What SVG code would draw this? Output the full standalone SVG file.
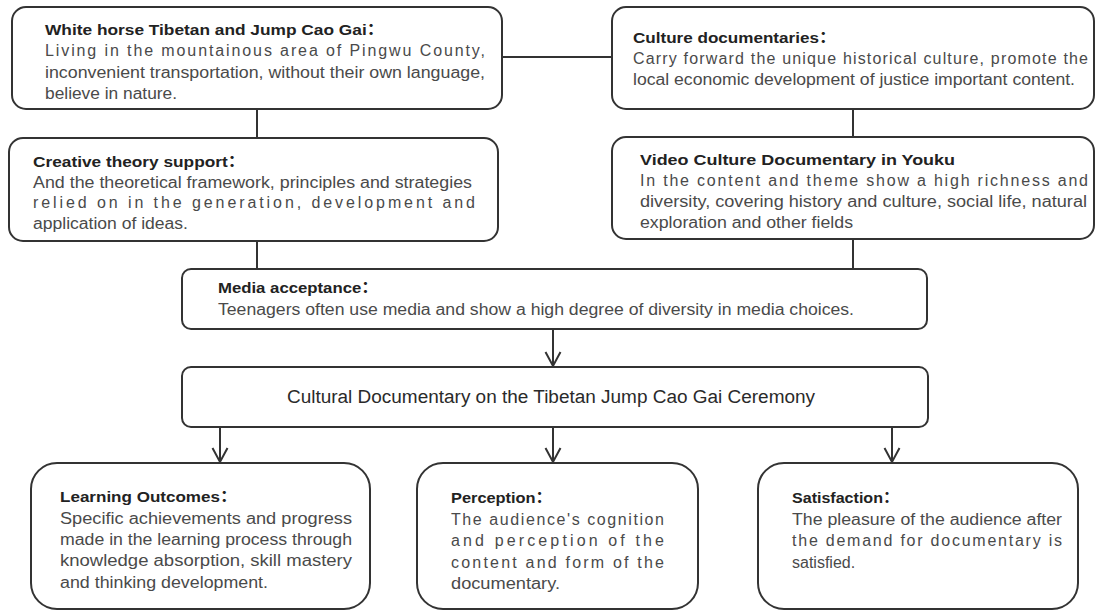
<svg xmlns="http://www.w3.org/2000/svg" width="1098" height="614" viewBox="0 0 1098 614">
<style>
  .box { fill: #ffffff; stroke: #333333; stroke-width: 2; }
  .t { font-family: "Liberation Sans", Arial, "Noto Sans CJK SC", sans-serif; font-size: 15.5px; font-weight: bold; fill: #222222; }
  .b { font-family: "Liberation Sans", Arial, "Noto Sans CJK SC", sans-serif; font-size: 16px; fill: #4a4a4a; }
  .c { font-family: "Liberation Sans", Arial, "Noto Sans CJK SC", sans-serif; font-size: 18px; fill: #2a2a2a; }
  .ln { fill: none; stroke: #333333; stroke-width: 2; }
</style>
<defs>
  <marker id="arr" markerUnits="userSpaceOnUse" markerWidth="20" markerHeight="20" viewBox="-16 -10 20 20" refX="0" refY="0" orient="auto" overflow="visible">
    <path d="M-14,-7.5 L0,0 L-14,7.5" fill="none" stroke="#333333" stroke-width="2"/>
  </marker>
</defs>
<rect width="1098" height="614" fill="#ffffff"/>

<g id="connectors">
  <line class="ln" x1="502" y1="57" x2="612" y2="57"/>
  <line class="ln" x1="257" y1="109" x2="257" y2="138"/>
  <line class="ln" x1="853" y1="109" x2="853" y2="137"/>
  <line class="ln" x1="257" y1="241" x2="257" y2="269"/>
  <line class="ln" x1="853" y1="239" x2="853" y2="269"/>
  <line class="ln" x1="553" y1="329" x2="553" y2="366" marker-end="url(#arr)"/>
  <line class="ln" x1="220" y1="427" x2="220" y2="462" marker-end="url(#arr)"/>
  <line class="ln" x1="553" y1="427" x2="553" y2="462" marker-end="url(#arr)"/>
  <line class="ln" x1="892" y1="427" x2="892" y2="462" marker-end="url(#arr)"/>
</g>

<g id="node-white-horse">
  <rect class="box" x="12" y="7" width="490" height="102" rx="14"/>
  <text class="t" x="45" y="35" textLength="339" lengthAdjust="spacingAndGlyphs">White horse Tibetan and Jump Cao Gai：</text>
  <text class="b" x="45" y="56" textLength="440" lengthAdjust="spacing">Living in the mountainous area of Pingwu County,</text>
  <text class="b" x="45" y="78" textLength="440" lengthAdjust="spacingAndGlyphs">inconvenient transportation, without their own language,</text>
  <text class="b" x="45" y="99" textLength="132" lengthAdjust="spacingAndGlyphs">believe in nature.</text>
</g>

<g id="node-culture-documentaries">
  <rect class="box" x="612" y="7" width="482" height="102" rx="14"/>
  <text class="t" x="633" y="43" textLength="203" lengthAdjust="spacingAndGlyphs">Culture documentaries：</text>
  <text class="b" x="633" y="64" textLength="455" lengthAdjust="spacing">Carry forward the unique historical culture, promote the</text>
  <text class="b" x="633" y="85" textLength="442" lengthAdjust="spacingAndGlyphs">local economic development of justice important content.</text>
</g>

<g id="node-creative-theory">
  <rect class="box" x="9" y="138" width="489" height="103" rx="14"/>
  <text class="t" x="33" y="167" textLength="212" lengthAdjust="spacingAndGlyphs">Creative theory support：</text>
  <text class="b" x="33" y="188" textLength="439" lengthAdjust="spacingAndGlyphs">And the theoretical framework, principles and strategies</text>
  <text class="b" x="33" y="208" textLength="442" lengthAdjust="spacing">relied on in the generation, development and</text>
  <text class="b" x="33" y="229" textLength="155" lengthAdjust="spacingAndGlyphs">application of ideas.</text>
</g>

<g id="node-video-culture">
  <rect class="box" x="612" y="137" width="482" height="102" rx="14"/>
  <text class="t" x="640" y="165" textLength="315" lengthAdjust="spacingAndGlyphs">Video Culture Documentary in Youku</text>
  <text class="b" x="640" y="186" textLength="448" lengthAdjust="spacing">In the content and theme show a high richness and</text>
  <text class="b" x="640" y="207" textLength="447" lengthAdjust="spacingAndGlyphs">diversity, covering history and culture, social life, natural</text>
  <text class="b" x="640" y="228" textLength="213" lengthAdjust="spacingAndGlyphs">exploration and other fields</text>
</g>

<g id="node-media-acceptance">
  <rect class="box" x="182" y="269" width="745" height="60" rx="9"/>
  <text class="t" x="218" y="293" textLength="160" lengthAdjust="spacingAndGlyphs">Media acceptance：</text>
  <text class="b" x="218" y="315" textLength="636" lengthAdjust="spacingAndGlyphs">Teenagers often use media and show a high degree of diversity in media choices.</text>
</g>

<g id="node-cultural-documentary">
  <rect class="box" x="182" y="367" width="746" height="60" rx="9"/>
  <text class="c" x="287" y="403" textLength="528" lengthAdjust="spacingAndGlyphs">Cultural Documentary on the Tibetan Jump Cao Gai Ceremony</text>
</g>

<g id="node-learning-outcomes">
  <rect class="box" x="31" y="463" width="339" height="146" rx="26"/>
  <text class="t" x="60" y="502" textLength="177" lengthAdjust="spacingAndGlyphs">Learning Outcomes：</text>
  <text class="b" x="60" y="524" textLength="292" lengthAdjust="spacingAndGlyphs">Specific achievements and progress</text>
  <text class="b" x="60" y="545" textLength="292" lengthAdjust="spacingAndGlyphs">made in the learning process through</text>
  <text class="b" x="60" y="566" textLength="292" lengthAdjust="spacingAndGlyphs">knowledge absorption, skill mastery</text>
  <text class="b" x="60" y="588" textLength="208" lengthAdjust="spacingAndGlyphs">and thinking development.</text>
</g>

<g id="node-perception">
  <rect class="box" x="417" y="463" width="281" height="146" rx="26"/>
  <text class="t" x="451" y="503" textLength="101" lengthAdjust="spacingAndGlyphs">Perception：</text>
  <text class="b" x="451" y="525" textLength="213" lengthAdjust="spacing">The audience's cognition</text>
  <text class="b" x="451" y="546" textLength="213" lengthAdjust="spacing">and perception of the</text>
  <text class="b" x="451" y="568" textLength="213" lengthAdjust="spacing">content and form of the</text>
  <text class="b" x="451" y="589" textLength="109" lengthAdjust="spacingAndGlyphs">documentary.</text>
</g>

<g id="node-satisfaction">
  <rect class="box" x="758" y="463" width="320" height="146" rx="26"/>
  <text class="t" x="792" y="503" textLength="107" lengthAdjust="spacingAndGlyphs">Satisfaction：</text>
  <text class="b" x="792" y="525" textLength="270" lengthAdjust="spacingAndGlyphs">The pleasure of the audience after</text>
  <text class="b" x="792" y="546" textLength="270" lengthAdjust="spacing">the demand for documentary is</text>
  <text class="b" x="792" y="568">satisfied.</text>
</g>
</svg>
